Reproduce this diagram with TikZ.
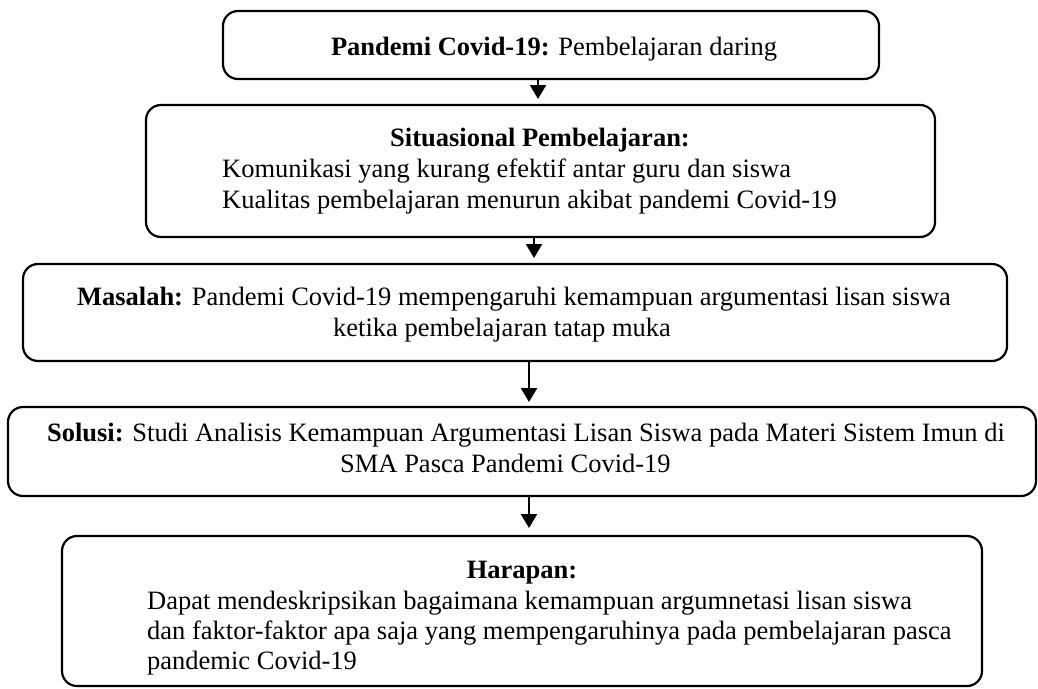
\documentclass[tikz,border=0pt]{standalone}
\usepackage{fontspec}
\setmainfont{Liberation Serif}
\usetikzlibrary{arrows.meta}
\begin{document}
\begin{tikzpicture}[x=1pt,y=-1pt,
  box/.style={draw, line width=2.2pt, rounded corners=15pt, inner sep=0pt, fill=white},
  txt/.style={inner sep=0pt, font=\fontsize{26.5}{31}\selectfont},
  conn/.style={line width=2.2pt, -{Triangle[length=14pt,width=16pt]}}]
\useasboundingbox (0,0) rectangle (1038,688);
% boxes
\node[box, minimum width=656pt, minimum height=68pt] (b1) at (551,45) {};
\node[box, minimum width=789pt, minimum height=132pt] (b2) at (540.5,171) {};
\node[box, minimum width=984pt, minimum height=97pt] (b3) at (515,312.5) {};
\node[box, minimum width=1028pt, minimum height=89pt] (b4) at (522,451.5) {};
\node[box, minimum width=920pt, minimum height=150pt] (b5) at (522,611) {};
% texts
\node[txt, anchor=base] (t1) at (554,55) {\textbf{Pandemi Covid-19:} Pembelajaran daring};
\node[txt, anchor=base] (t2a) at (540,146) {\textbf{Situasional Pembelajaran:}};
\node[txt, anchor=base west] (t2b) at (222,177) {Komunikasi yang kurang efektif antar guru dan siswa};
\node[txt, anchor=base west] (t2c) at (222,208) {Kualitas pembelajaran menurun akibat pandemi Covid-19};
\node[txt, anchor=base] (t3a) at (514,305) {\textbf{Masalah:} Pandemi Covid-19 mempengaruhi kemampuan argumentasi lisan siswa};
\node[txt, anchor=base west] (t3b) at (333,336) {ketika pembelajaran tatap muka};
\node[txt, anchor=base] (t4a) at (526,441) {\textbf{Solusi:} Studi Analisis Kemampuan Argumentasi Lisan Siswa pada Materi Sistem Imun di};
\node[txt, anchor=base west] (t4b) at (340,472) {SMA Pasca Pandemi Covid-19};
\node[txt, anchor=base] (t5a) at (522,578) {\textbf{Harapan:}};
\node[txt, anchor=base west] (t5b) at (147,609) {Dapat mendeskripsikan bagaimana kemampuan argumnetasi lisan siswa};
\node[txt, anchor=base west] (t5c) at (147,639) {dan faktor-faktor apa saja yang mempengaruhinya pada pembelajaran pasca};
\node[txt, anchor=base west] (t5d) at (147,669) {pandemic Covid-19};
% arrows
\coordinate (e1) at (538,99);
\coordinate (e2) at (534,258);
\coordinate (e3) at (529,402);
\coordinate (e4) at (529,528);
\draw[conn] (b1.south -| e1) -- (e1);
\draw[conn] (b2.south -| e2) -- (e2);
\draw[conn] (b3.south -| e3) -- (e3);
\draw[conn] (b4.south -| e4) -- (e4);
\end{tikzpicture}
\end{document}
